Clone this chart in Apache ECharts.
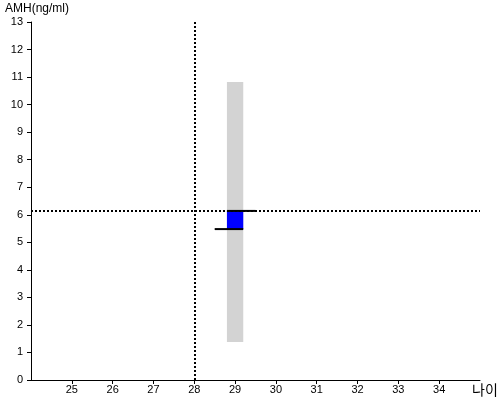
<!DOCTYPE html>
<html>
<head>
<meta charset="utf-8">
<script src="https://cdn.jsdelivr.net/npm/echarts@6/dist/echarts.min.js"></script>
<style>
  html, body { margin: 0; padding: 0; background: #fff; }
  #chart { width: 500px; height: 400px; }
</style>
</head>
<body>
<div id="chart"></div>
<script>
const xTicks = [25, 26, 27, 28, 29, 30, 31, 32, 33, 34]
// [age, low, high]
const refRange = [[29, 1.38, 10.82]]
const valueBox = [[29, 5.48, 6.14]]
const upperLine = [[28.8, 6.14], [29.5, 6.14]]
const lowerLine = [[28.5, 5.48], [29.2, 5.48]]
const markAge = 28
const markAmh = 6.14

const font = 'Liberation Sans, Arial, sans-serif'
const halfWidth = 0.2

function boxRenderer(color) {
  return function (params, api) {
    const x = api.value(0)
    const p1 = api.coord([x - halfWidth, api.value(2)])
    const p2 = api.coord([x + halfWidth, api.value(1)])
    return {
      type: 'rect',
      shape: { x: p1[0], y: p1[1], width: p2[0] - p1[0], height: p2[1] - p1[1] },
      style: { fill: color }
    }
  }
}

const chart = echarts.init(document.getElementById('chart'))
const option = {
  animation: false,
  grid: { left: 31, right: 20, top: 22, bottom: 20 },
  xAxis: {
    type: 'value',
    min: 24,
    max: 35,
    splitLine: { show: false },
    axisLine: { lineStyle: { color: '#000', width: 1 } },
    axisTick: { customValues: xTicks, length: 4, lineStyle: { color: '#000' } },
    axisLabel: { customValues: xTicks, color: '#000', fontSize: 11, fontFamily: font, margin: 4 }
  },
  yAxis: {
    type: 'value',
    min: 0,
    max: 13,
    interval: 1,
    splitLine: { show: false },
    axisLine: { show: true, lineStyle: { color: '#000', width: 1 } },
    axisTick: { show: true, length: 4, lineStyle: { color: '#000' } },
    axisLabel: { color: '#000', fontSize: 11, fontFamily: font, margin: 8 }
  },
  graphic: [
    { type: 'text', left: 5, top: 3, style: { text: 'AMH(ng/ml)', fill: '#000', font: '12px ' + font } },
    { type: 'text', left: 472, top: 383, style: { text: '나이', fill: '#000', font: '14px Noto Sans CJK KR, sans-serif' } }
  ],
  series: [
    {
      type: 'custom',
      renderItem: boxRenderer('#d3d3d3'),
      data: refRange,
      z: 1
    },
    {
      type: 'custom',
      renderItem: boxRenderer('#0000ff'),
      data: valueBox,
      z: 2
    },
    {
      type: 'line',
      data: upperLine,
      symbol: 'none',
      lineStyle: { color: '#000', width: 2 },
      z: 3
    },
    {
      type: 'line',
      data: lowerLine,
      symbol: 'none',
      lineStyle: { color: '#000', width: 2 },
      z: 3,
      markLine: {
        silent: true,
        symbol: 'none',
        label: { show: false },
        lineStyle: { color: '#000', width: 2, type: [2, 2] },
        data: [{ xAxis: markAge }, { yAxis: markAmh }]
      }
    }
  ]
}
chart.setOption(option)
</script>
</body>
</html>
